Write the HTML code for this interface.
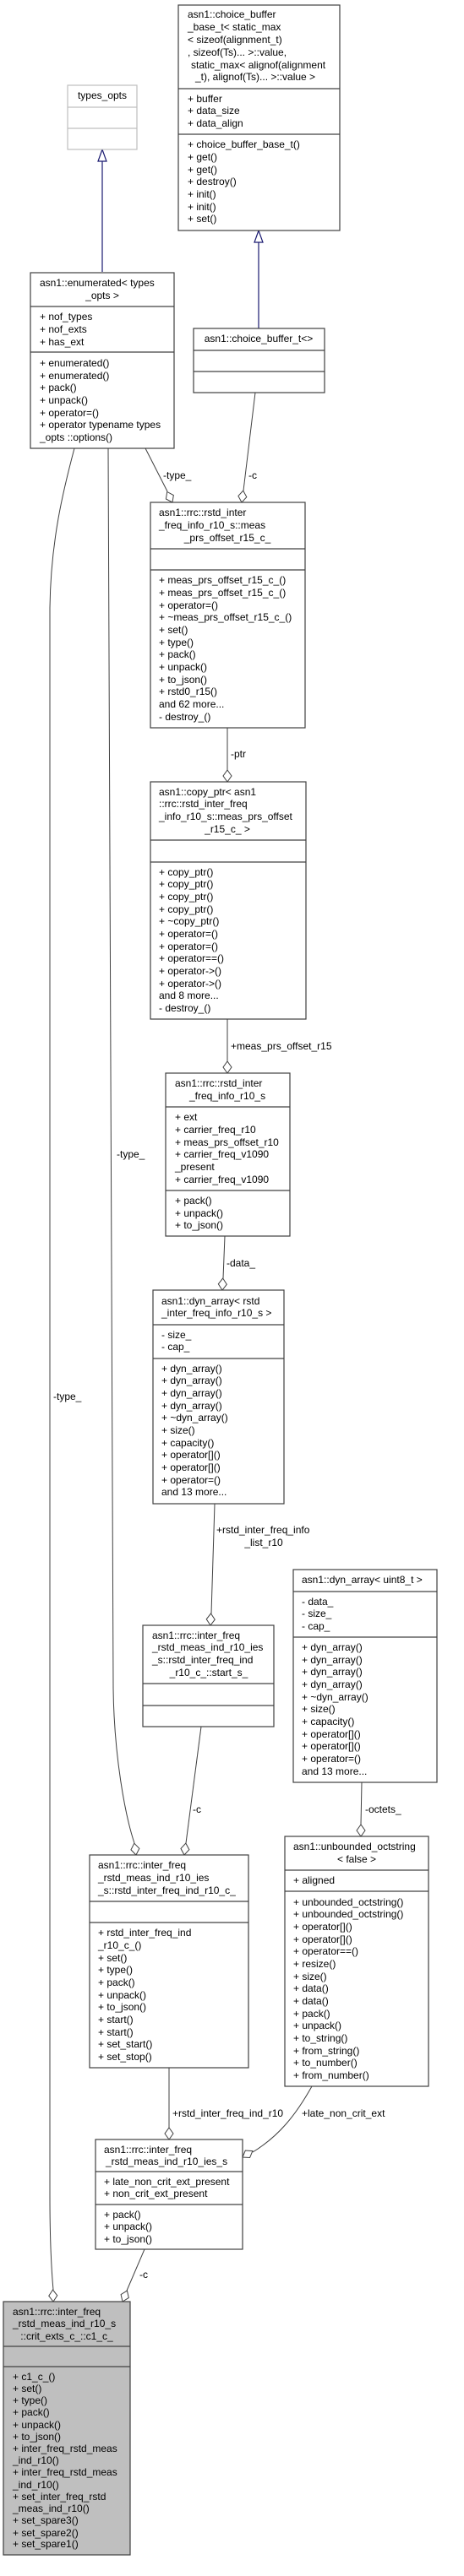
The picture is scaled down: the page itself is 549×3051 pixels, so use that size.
<!DOCTYPE html>
<html><head><meta charset="utf-8"><style>
html,body{margin:0;padding:0;background:#fff;}
svg{display:block;}
text{font-family:"Liberation Sans",Arial,sans-serif;font-size:12px;fill:#000;}
.b{fill:#fff;stroke:#404040;stroke-width:1.2;}
.g{fill:#bfbfbf;stroke:#404040;stroke-width:1.2;}
.d{stroke:#404040;stroke-width:1.2;}
.e{fill:none;stroke:#404040;stroke-width:1;}
.e2{fill:none;stroke:#6e6e6e;stroke-width:1.3;}
.dm{fill:#fff;stroke:#404040;stroke-width:1;}
.c{text-anchor:middle;}
</style></head><body>
<svg width="549" height="3051" viewBox="0 0 549 3051" xmlns="http://www.w3.org/2000/svg">

<!-- edges -->
<path class="e" d="M88,531 C75,580 60,640 59,720 L59,2600 C59,2650 61,2690 63,2712"/>
<path class="e" d="M128,531 L134,2000 C135,2080 148,2150 159,2183"/>
<path class="e" d="M172,531 L198,582"/>
<path class="e" d="M302,465 L288,581"/>
<path class="e" d="M269,862 L269,912"/>
<path class="e" d="M269,1207 L269,1257"/>
<path class="e" d="M266,1464 L264,1514"/>
<path class="e" d="M254,1781 L250,1911"/>
<path class="e" d="M238,2045 L220,2183"/>
<path class="e" d="M428,2111 L427,2161"/>
<path class="e" d="M200,2449 L200,2520"/>
<path class="e" d="M369,2471 C350,2505 330,2530 299,2549"/>
<path class="e" d="M171,2664 L150,2713"/>

<!-- inheritance -->
<path d="M121,191 L121,322" fill="none" stroke="#191970" stroke-width="1.2"/>
<polygon points="121,177 116,191 126,191" fill="#fff" stroke="#191970" stroke-width="1.2"/>
<path d="M306,287 L306,389" fill="none" stroke="#191970" stroke-width="1.2"/>
<polygon points="306,273 301,287 311,287" fill="#fff" stroke="#191970" stroke-width="1.2"/>

<!-- diamonds -->
<g transform="translate(204,595) rotate(-26.6)"><polygon class="dm" points="0,0 -5,-7 0,-14 5,-7"/></g>
<g transform="translate(286,595) rotate(7)"><polygon class="dm" points="0,0 -5,-7 0,-14 5,-7"/></g>
<g transform="translate(269,926)"><polygon class="dm" points="0,0 -5,-7 0,-14 5,-7"/></g>
<g transform="translate(269,1271)"><polygon class="dm" points="0,0 -5,-7 0,-14 5,-7"/></g>
<g transform="translate(263,1528) rotate(2.7)"><polygon class="dm" points="0,0 -5,-7 0,-14 5,-7"/></g>
<g transform="translate(249,1925) rotate(2)"><polygon class="dm" points="0,0 -5,-7 0,-14 5,-7"/></g>
<g transform="translate(218,2197) rotate(7.5)"><polygon class="dm" points="0,0 -5,-7 0,-14 5,-7"/></g>
<g transform="translate(161,2197) rotate(-9)"><polygon class="dm" points="0,0 -5,-7 0,-14 5,-7"/></g>
<g transform="translate(427,2175)"><polygon class="dm" points="0,0 -5,-7 0,-14 5,-7"/></g>
<g transform="translate(200,2534)"><polygon class="dm" points="0,0 -5,-7 0,-14 5,-7"/></g>
<g transform="translate(287,2555) rotate(58)"><polygon class="dm" points="0,0 -5,-7 0,-14 5,-7"/></g>
<g transform="translate(145,2726) rotate(22.8)"><polygon class="dm" points="0,0 -5,-7 0,-14 5,-7"/></g>
<g transform="translate(63,2726) rotate(-2)"><polygon class="dm" points="0,0 -5,-7 0,-14 5,-7"/></g>

<!-- edge labels -->
<text x="193" y="567">-type_</text>
<text x="294" y="567">-c</text>
<text x="273" y="897">-ptr</text>
<text x="273" y="1243">+meas_prs_offset_r15</text>
<text x="138" y="1371">-type_</text>
<text x="268" y="1500">-data_</text>
<text x="63" y="1658">-type_</text>
<text x="256" y="1816">+rstd_inter_freq_info</text>
<text x="312" y="1831" class="c">_list_r10</text>
<text x="228" y="2147">-c</text>
<text x="432" y="2147">-octets_</text>
<text x="204" y="2507">+rstd_inter_freq_ind_r10</text>
<text x="357" y="2507">+late_non_crit_ext</text>
<text x="165" y="2698">-c</text>

<!-- choice_buffer_base -->
<rect class="b" x="211" y="6" width="191" height="267"/>
<line class="d" x1="211" y1="105" x2="402" y2="105"/>
<line class="d" x1="211" y1="159" x2="402" y2="159"/>
<text x="222" y="21">asn1::choice_buffer</text>
<text x="222" y="36">_base_t&lt; static_max</text>
<text x="222" y="51">&lt; sizeof(alignment_t)</text>
<text x="222" y="66">, sizeof(Ts)... &gt;::value,</text>
<text x="226" y="81">static_max&lt; alignof(alignment</text>
<text x="231" y="95">_t), alignof(Ts)... &gt;::value &gt;</text>
<text x="222" y="121">+ buffer</text>
<text x="222" y="135">+ data_size</text>
<text x="222" y="150">+ data_align</text>
<text x="222" y="175">+ choice_buffer_base_t()</text>
<text x="222" y="190">+ get()</text>
<text x="222" y="205">+ get()</text>
<text x="222" y="219">+ destroy()</text>
<text x="222" y="234">+ init()</text>
<text x="222" y="249">+ init()</text>
<text x="222" y="263">+ set()</text>

<!-- types_opts -->
<rect x="80" y="101" width="82" height="76" fill="#fff" stroke="#bfbfbf" stroke-width="1.2"/>
<line x1="80" y1="127" x2="162" y2="127" stroke="#bfbfbf" stroke-width="1.2"/>
<line x1="80" y1="152" x2="162" y2="152" stroke="#bfbfbf" stroke-width="1.2"/>
<text x="121" y="117" class="c">types_opts</text>

<!-- enumerated -->
<rect class="b" x="36" y="323" width="170" height="208"/>
<line class="d" x1="36" y1="363" x2="206" y2="363"/>
<line class="d" x1="36" y1="417" x2="206" y2="417"/>
<text x="47" y="339">asn1::enumerated&lt; types</text>
<text x="121" y="354" class="c">_opts &gt;</text>
<text x="47" y="379">+ nof_types</text>
<text x="47" y="394">+ nof_exts</text>
<text x="47" y="409">+ has_ext</text>
<text x="47" y="434">+ enumerated()</text>
<text x="47" y="449">+ enumerated()</text>
<text x="47" y="463">+ pack()</text>
<text x="47" y="478">+ unpack()</text>
<text x="47" y="493">+ operator=()</text>
<text x="47" y="507">+ operator typename types</text>
<text x="47" y="522">_opts ::options()</text>

<!-- choice_buffer_t -->
<rect class="b" x="229" y="389" width="155" height="76"/>
<line class="d" x1="229" y1="415" x2="384" y2="415"/>
<line class="d" x1="229" y1="440" x2="384" y2="440"/>
<text x="306" y="405" class="c">asn1::choice_buffer_t&lt;&gt;</text>

<!-- meas_prs_offset_r15_c_ -->
<rect class="b" x="178" y="595" width="183" height="267"/>
<line class="d" x1="178" y1="650" x2="361" y2="650"/>
<line class="d" x1="178" y1="675" x2="361" y2="675"/>
<text x="188" y="611">asn1::rrc::rstd_inter</text>
<text x="188" y="626">_freq_info_r10_s::meas</text>
<text x="269" y="641" class="c">_prs_offset_r15_c_</text>
<text x="188" y="691">+ meas_prs_offset_r15_c_()</text>
<text x="188" y="706">+ meas_prs_offset_r15_c_()</text>
<text x="188" y="721">+ operator=()</text>
<text x="188" y="735">+ ~meas_prs_offset_r15_c_()</text>
<text x="188" y="750">+ set()</text>
<text x="188" y="765">+ type()</text>
<text x="188" y="779">+ pack()</text>
<text x="188" y="794">+ unpack()</text>
<text x="188" y="809">+ to_json()</text>
<text x="188" y="823">+ rstd0_r15()</text>
<text x="188" y="838">and 62 more...</text>
<text x="188" y="853">- destroy_()</text>

<!-- copy_ptr -->
<rect class="b" x="178" y="926" width="184" height="281"/>
<line class="d" x1="178" y1="995" x2="362" y2="995"/>
<line class="d" x1="178" y1="1021" x2="362" y2="1021"/>
<text x="188" y="942">asn1::copy_ptr&lt; asn1</text>
<text x="188" y="956">::rrc::rstd_inter_freq</text>
<text x="188" y="971">_info_r10_s::meas_prs_offset</text>
<text x="269" y="986" class="c">_r15_c_ &gt;</text>
<text x="188" y="1037">+ copy_ptr()</text>
<text x="188" y="1051">+ copy_ptr()</text>
<text x="188" y="1066">+ copy_ptr()</text>
<text x="188" y="1081">+ copy_ptr()</text>
<text x="188" y="1095">+ ~copy_ptr()</text>
<text x="188" y="1110">+ operator=()</text>
<text x="188" y="1125">+ operator=()</text>
<text x="188" y="1139">+ operator==()</text>
<text x="188" y="1154">+ operator-&gt;()</text>
<text x="188" y="1169">+ operator-&gt;()</text>
<text x="188" y="1183">and 8 more...</text>
<text x="188" y="1198">- destroy_()</text>

<!-- rstd_inter_freq_info_r10_s -->
<rect class="b" x="196" y="1271" width="147" height="193"/>
<line class="d" x1="196" y1="1311" x2="343" y2="1311"/>
<line class="d" x1="196" y1="1410" x2="343" y2="1410"/>
<text x="207" y="1287">asn1::rrc::rstd_inter</text>
<text x="224" y="1302">_freq_info_r10_s</text>
<text x="207" y="1327">+ ext</text>
<text x="207" y="1342">+ carrier_freq_r10</text>
<text x="207" y="1357">+ meas_prs_offset_r10</text>
<text x="207" y="1371">+ carrier_freq_v1090</text>
<text x="207" y="1386">_present</text>
<text x="207" y="1401">+ carrier_freq_v1090</text>
<text x="207" y="1426">+ pack()</text>
<text x="207" y="1441">+ unpack()</text>
<text x="207" y="1455">+ to_json()</text>

<!-- dyn_array rstd -->
<rect class="b" x="181" y="1528" width="155" height="253"/>
<line class="d" x1="181" y1="1569" x2="336" y2="1569"/>
<line class="d" x1="181" y1="1609" x2="336" y2="1609"/>
<text x="191" y="1545">asn1::dyn_array&lt; rstd</text>
<text x="191" y="1559">_inter_freq_info_r10_s &gt;</text>
<text x="191" y="1585">- size_</text>
<text x="191" y="1599">- cap_</text>
<text x="191" y="1625">+ dyn_array()</text>
<text x="191" y="1639">+ dyn_array()</text>
<text x="191" y="1654">+ dyn_array()</text>
<text x="191" y="1669">+ dyn_array()</text>
<text x="191" y="1683">+ ~dyn_array()</text>
<text x="191" y="1698">+ size()</text>
<text x="191" y="1713">+ capacity()</text>
<text x="191" y="1727">+ operator[]()</text>
<text x="191" y="1742">+ operator[]()</text>
<text x="191" y="1757">+ operator=()</text>
<text x="191" y="1771">and 13 more...</text>

<!-- start_s -->
<rect class="b" x="169" y="1925" width="155" height="120"/>
<line class="d" x1="169" y1="1994" x2="324" y2="1994"/>
<line class="d" x1="169" y1="2020" x2="324" y2="2020"/>
<text x="180" y="1941">asn1::rrc::inter_freq</text>
<text x="180" y="1955">_rstd_meas_ind_r10_ies</text>
<text x="180" y="1970">_s::rstd_inter_freq_ind</text>
<text x="247" y="1985" class="c">_r10_c_::start_s_</text>

<!-- dyn_array uint8 -->
<rect class="b" x="347" y="1859" width="170" height="252"/>
<line class="d" x1="347" y1="1885" x2="517" y2="1885"/>
<line class="d" x1="347" y1="1939" x2="517" y2="1939"/>
<text x="357" y="1875">asn1::dyn_array&lt; uint8_t &gt;</text>
<text x="357" y="1901">- data_</text>
<text x="357" y="1915">- size_</text>
<text x="357" y="1930">- cap_</text>
<text x="357" y="1955">+ dyn_array()</text>
<text x="357" y="1970">+ dyn_array()</text>
<text x="357" y="1984">+ dyn_array()</text>
<text x="357" y="1999">+ dyn_array()</text>
<text x="357" y="2014">+ ~dyn_array()</text>
<text x="357" y="2028">+ size()</text>
<text x="357" y="2043">+ capacity()</text>
<text x="357" y="2058">+ operator[]()</text>
<text x="357" y="2072">+ operator[]()</text>
<text x="357" y="2087">+ operator=()</text>
<text x="357" y="2102">and 13 more...</text>

<!-- rstd_inter_freq_ind_r10_c_ -->
<rect class="b" x="106" y="2197" width="188" height="252"/>
<line class="d" x1="106" y1="2252" x2="294" y2="2252"/>
<line class="d" x1="106" y1="2277" x2="294" y2="2277"/>
<text x="116" y="2213">asn1::rrc::inter_freq</text>
<text x="116" y="2228">_rstd_meas_ind_r10_ies</text>
<text x="116" y="2243">_s::rstd_inter_freq_ind_r10_c_</text>
<text x="116" y="2293">+ rstd_inter_freq_ind</text>
<text x="116" y="2308">_r10_c_()</text>
<text x="116" y="2323">+ set()</text>
<text x="116" y="2337">+ type()</text>
<text x="116" y="2352">+ pack()</text>
<text x="116" y="2367">+ unpack()</text>
<text x="116" y="2381">+ to_json()</text>
<text x="116" y="2396">+ start()</text>
<text x="116" y="2411">+ start()</text>
<text x="116" y="2425">+ set_start()</text>
<text x="116" y="2440">+ set_stop()</text>

<!-- unbounded_octstring -->
<rect class="b" x="337" y="2175" width="170" height="296"/>
<line class="d" x1="337" y1="2215" x2="507" y2="2215"/>
<line class="d" x1="337" y1="2240" x2="507" y2="2240"/>
<text x="347" y="2191">asn1::unbounded_octstring</text>
<text x="422" y="2206" class="c">&lt; false &gt;</text>
<text x="347" y="2231">+ aligned</text>
<text x="347" y="2257">+ unbounded_octstring()</text>
<text x="347" y="2271">+ unbounded_octstring()</text>
<text x="347" y="2286">+ operator[]()</text>
<text x="347" y="2301">+ operator[]()</text>
<text x="347" y="2315">+ operator==()</text>
<text x="347" y="2330">+ resize()</text>
<text x="347" y="2345">+ size()</text>
<text x="347" y="2359">+ data()</text>
<text x="347" y="2374">+ data()</text>
<text x="347" y="2389">+ pack()</text>
<text x="347" y="2403">+ unpack()</text>
<text x="347" y="2418">+ to_string()</text>
<text x="347" y="2433">+ from_string()</text>
<text x="347" y="2447">+ to_number()</text>
<text x="347" y="2462">+ from_number()</text>

<!-- ies_s -->
<rect class="b" x="113" y="2534" width="174" height="130"/>
<line class="d" x1="113" y1="2572" x2="287" y2="2572"/>
<line class="d" x1="113" y1="2611" x2="287" y2="2611"/>
<text x="123" y="2550">asn1::rrc::inter_freq</text>
<text x="125" y="2564">_rstd_meas_ind_r10_ies_s</text>
<text x="123" y="2588">+ late_non_crit_ext_present</text>
<text x="123" y="2602">+ non_crit_ext_present</text>
<text x="123" y="2627">+ pack()</text>
<text x="123" y="2641">+ unpack()</text>
<text x="123" y="2656">+ to_json()</text>

<!-- main -->
<rect class="g" x="4" y="2726" width="150" height="300"/>
<line class="d" x1="4" y1="2779" x2="154" y2="2779"/>
<line class="d" x1="4" y1="2803" x2="154" y2="2803"/>
<text x="15" y="2742">asn1::rrc::inter_freq</text>
<text x="15" y="2756">_rstd_meas_ind_r10_s</text>
<text x="79" y="2771" class="c">::crit_exts_c_::c1_c_</text>
<text x="15" y="2819">+ c1_c_()</text>
<text x="15" y="2833">+ set()</text>
<text x="15" y="2847">+ type()</text>
<text x="15" y="2861">+ pack()</text>
<text x="15" y="2876">+ unpack()</text>
<text x="15" y="2890">+ to_json()</text>
<text x="15" y="2904">+ inter_freq_rstd_meas</text>
<text x="15" y="2918">_ind_r10()</text>
<text x="15" y="2932">+ inter_freq_rstd_meas</text>
<text x="15" y="2947">_ind_r10()</text>
<text x="15" y="2961">+ set_inter_freq_rstd</text>
<text x="15" y="2975">_meas_ind_r10()</text>
<text x="15" y="2989">+ set_spare3()</text>
<text x="15" y="3004">+ set_spare2()</text>
<text x="15" y="3017">+ set_spare1()</text>
</svg>
</body></html>
